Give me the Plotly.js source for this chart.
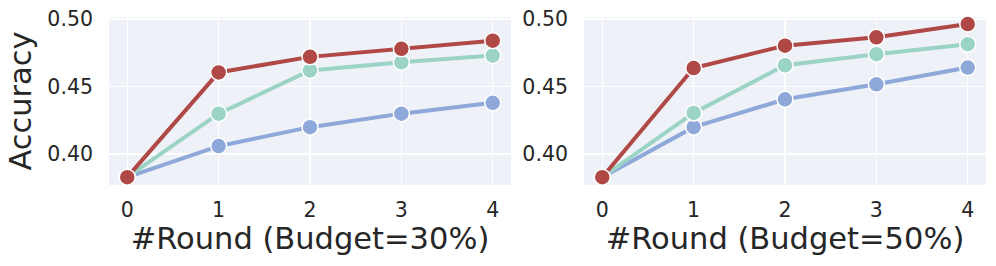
<!DOCTYPE html>
<html><head><meta charset="utf-8">
<script src="https://cdn.plot.ly/plotly-3.0.1.min.js"></script>
<style>html,body{margin:0;padding:0;background:#fff}</style>
</head><body><div id="chart" style="width:996px;height:266px"></div>
<script>
const rounds = [0, 1, 2, 3, 4];
const red30 = [0.383, 0.4605, 0.472, 0.478, 0.484];
const teal30 = [0.383, 0.430, 0.462, 0.468, 0.473];
const blue30 = [0.383, 0.406, 0.420, 0.430, 0.438];
const red50 = [0.383, 0.4637, 0.4803, 0.4865, 0.4963];
const teal50 = [0.383, 0.4305, 0.4658, 0.474, 0.4814];
const blue50 = [0.383, 0.420, 0.4406, 0.4517, 0.4641];
const yTicks = [0.40, 0.45, 0.50];
const yTickText = ['0.40', '0.45', '0.50'];
const xTitles = ['#Round (Budget=30%)', '#Round (Budget=50%)'];

const colors = {red: '#B04845', teal: '#9BD3C4', blue: '#8EA9D9'};
function tr(y, c, xa, ya) {
  return {x: rounds, y: y, xaxis: xa, yaxis: ya, mode: 'lines+markers', type: 'scatter',
    line: {color: c, width: 4}, marker: {size: 16, color: c, line: {color: '#fff', width: 1.5}},
    showlegend: false, cliponaxis: false};
}
const data = [
  tr(blue30, colors.blue, 'x', 'y'), tr(teal30, colors.teal, 'x', 'y'), tr(red30, colors.red, 'x', 'y'),
  tr(blue50, colors.blue, 'x2', 'y2'), tr(teal50, colors.teal, 'x2', 'y2'), tr(red50, colors.red, 'x2', 'y2')
];
const font = {family: 'DejaVu Sans', color: '#262626'};
const yb = 1 - 185/266, yt = 1 - 17/266;
function xa(dom, title, anchor) {
  return {domain: dom, anchor: anchor, range: [-0.2, 4.2], tickvals: rounds, ticktext: rounds.map(String),
    showgrid: true, gridcolor: '#fff', gridwidth: 1.5, zeroline: false, showline: false, ticks: '',
    ticklabelstandoff: 10, tickfont: {family: 'DejaVu Sans', size: 20.5, color: '#262626'},
    title: {text: title, font: {family: 'DejaVu Sans', size: 30.5, color: '#262626'}, standoff: 4}};
}
function ya(anchor, title) {
  const o = {domain: [yb, yt], anchor: anchor, range: [0.3772, 0.5015], tickvals: yTicks, ticktext: yTickText,
    showgrid: true, gridcolor: '#fff', gridwidth: 1.5, zeroline: false, showline: false, ticks: '',
    ticklabelstandoff: 15, tickfont: {family: 'DejaVu Sans', size: 20.5, color: '#262626'}};
  if (title) o.title = {text: title, font: {family: 'DejaVu Sans', size: 30.5, color: '#262626'}, standoff: 6};
  return o;
}
const layout = {
  width: 996, height: 266, margin: {l: 0, r: 0, t: 0, b: 0},
  paper_bgcolor: '#fff', plot_bgcolor: '#EEF1F7', font: font,
  xaxis: xa([109/996, 511/996], xTitles[0], 'y'),
  yaxis: ya('x', 'Accuracy'),
  xaxis2: xa([584/996, 986/996], xTitles[1], 'y2'),
  yaxis2: ya('x2', null),
  shapes: [
    {type: 'rect', xref: 'x2 domain', yref: 'y2 domain', x0: 0, x1: 1, y0: 0, y1: 1, fillcolor: '#EEF1F7', line: {width: 0}, layer: 'below'}
  ]
};
Plotly.newPlot('chart', data, layout, {displayModeBar: false, staticPlot: true});
</script></body></html>
